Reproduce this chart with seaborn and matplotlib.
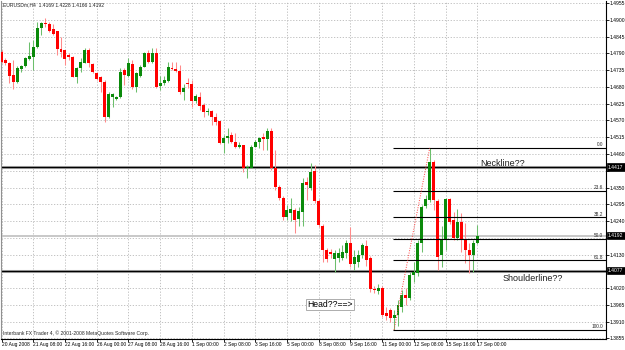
import numpy as np
import seaborn as sns
import matplotlib
matplotlib.use('Agg')
import matplotlib.pyplot as plt
import matplotlib.transforms as mtransforms

# EURUSDm H4 bars, 20 Aug 2008 00:00 .. 17 Sep 2008 00:00
opens = [1.4794, 1.4768, 1.4758, 1.4719, 1.4696, 1.4739, 1.4749, 1.4771, 1.4778, 1.4811,
         1.4873, 1.4890, 1.4886, 1.4870, 1.4863, 1.4804, 1.4801, 1.4785, 1.4778, 1.4712,
         1.4742, 1.4758, 1.4801, 1.4755, 1.4726, 1.4712, 1.4696, 1.4581, 1.4647, 1.4640,
         1.4647, 1.4735, 1.4716, 1.4755, 1.4680, 1.4716, 1.4745, 1.4791, 1.4762, 1.4791,
         1.4683, 1.4693, 1.4699, 1.4742, 1.4739, 1.4732, 1.4663, 1.4693, 1.4689, 1.4634,
         1.4647, 1.4621, 1.4598, 1.4601, 1.4581, 1.4568, 1.4496, 1.4512, 1.4522, 1.4499,
         1.4483, 1.4489, 1.4414, 1.4414, 1.4483, 1.4499, 1.4516, 1.4509, 1.4535, 1.4414,
         1.4352, 1.4316, 1.4253, 1.4266, 1.4276, 1.4247, 1.4270, 1.4368, 1.4348, 1.4404,
         1.4306, 1.4224, 1.4145, 1.4138, 1.4115, 1.4119, 1.4119, 1.4135, 1.4168, 1.4099,
         1.4106, 1.4129, 1.4158, 1.4119, 1.4017, 1.4010, 1.4020, 1.3938, 1.3948, 1.3922,
         1.3932, 1.3958, 1.3997, 1.3988, 1.4063, 1.4070, 1.4168, 1.4289, 1.4309, 1.4434,
         1.4306, 1.4129, 1.4178, 1.4312, 1.4243, 1.4184, 1.4237, 1.4178, 1.4145, 1.4129,
         1.4169]
highs = [1.4801, 1.4775, 1.4762, 1.4768, 1.4749, 1.4752, 1.4778, 1.4827, 1.4834, 1.4893,
         1.4893, 1.4906, 1.4893, 1.4886, 1.4863, 1.4844, 1.4801, 1.4791, 1.4781, 1.4745,
         1.4775, 1.4808, 1.4808, 1.4758, 1.4729, 1.4716, 1.4703, 1.4663, 1.4660, 1.4650,
         1.4742, 1.4742, 1.4775, 1.4768, 1.4729, 1.4752, 1.4794, 1.4801, 1.4808, 1.4808,
         1.4716, 1.4716, 1.4762, 1.4762, 1.4762, 1.4752, 1.4689, 1.4709, 1.4703, 1.4657,
         1.4663, 1.4627, 1.4611, 1.4604, 1.4594, 1.4568, 1.4522, 1.4545, 1.4532, 1.4529,
         1.4499, 1.4489, 1.4424, 1.4489, 1.4506, 1.4516, 1.4529, 1.4545, 1.4545, 1.4473,
         1.4358, 1.4322, 1.4293, 1.4316, 1.4283, 1.4286, 1.4381, 1.4384, 1.4430, 1.4424,
         1.4312, 1.4230, 1.4152, 1.4148, 1.4145, 1.4152, 1.4161, 1.4178, 1.4220, 1.4145,
         1.4145, 1.4168, 1.4178, 1.4125, 1.4027, 1.4033, 1.4027, 1.3958, 1.3955, 1.3948,
         1.3981, 1.4014, 1.4020, 1.4073, 1.4106, 1.4178, 1.4293, 1.4325, 1.4480, 1.4440,
         1.4312, 1.4224, 1.4316, 1.4316, 1.4270, 1.4279, 1.4266, 1.4234, 1.4168, 1.4178,
         1.4228]
lows = [1.4758, 1.4752, 1.4693, 1.4673, 1.4693, 1.4729, 1.4745, 1.4768, 1.4735, 1.4808,
        1.4850, 1.4876, 1.4860, 1.4850, 1.4785, 1.4778, 1.4752, 1.4768, 1.4712, 1.4693,
        1.4729, 1.4758, 1.4745, 1.4726, 1.4703, 1.4663, 1.4565, 1.4578, 1.4614, 1.4637,
        1.4644, 1.4686, 1.4712, 1.4673, 1.4663, 1.4712, 1.4745, 1.4758, 1.4758, 1.4676,
        1.4670, 1.4686, 1.4696, 1.4735, 1.4729, 1.4657, 1.4637, 1.4676, 1.4614, 1.4627,
        1.4604, 1.4581, 1.4588, 1.4555, 1.4555, 1.4493, 1.4463, 1.4496, 1.4496, 1.4480,
        1.4480, 1.4401, 1.4381, 1.4414, 1.4483, 1.4480, 1.4473, 1.4473, 1.4407, 1.4342,
        1.4309, 1.4243, 1.4243, 1.4240, 1.4201, 1.4224, 1.4224, 1.4309, 1.4342, 1.4299,
        1.4220, 1.4106, 1.4106, 1.4119, 1.4073, 1.4106, 1.4112, 1.4119, 1.4089, 1.4079,
        1.4089, 1.4119, 1.4093, 1.4007, 1.4004, 1.4001, 1.3925, 1.3915, 1.3909, 1.3883,
        1.3896, 1.3942, 1.3965, 1.3981, 1.4040, 1.4060, 1.4138, 1.4283, 1.4302, 1.4276,
        1.4079, 1.4089, 1.4145, 1.4230, 1.4178, 1.4178, 1.4138, 1.4102, 1.4070, 1.4073,
        1.4166]
closes = [1.4762, 1.4758, 1.4716, 1.4696, 1.4742, 1.4749, 1.4775, 1.4781, 1.4811, 1.4873,
          1.4890, 1.4886, 1.4863, 1.4853, 1.4804, 1.4794, 1.4771, 1.4778, 1.4712, 1.4742,
          1.4762, 1.4801, 1.4758, 1.4729, 1.4706, 1.4696, 1.4581, 1.4657, 1.4657, 1.4647,
          1.4729, 1.4719, 1.4758, 1.4680, 1.4726, 1.4745, 1.4791, 1.4762, 1.4791, 1.4680,
          1.4693, 1.4703, 1.4745, 1.4739, 1.4732, 1.4663, 1.4676, 1.4689, 1.4634, 1.4650,
          1.4617, 1.4598, 1.4601, 1.4581, 1.4565, 1.4496, 1.4512, 1.4519, 1.4499, 1.4483,
          1.4489, 1.4414, 1.4417, 1.4483, 1.4499, 1.4512, 1.4509, 1.4535, 1.4414, 1.4352,
          1.4316, 1.4253, 1.4276, 1.4279, 1.4243, 1.4273, 1.4365, 1.4358, 1.4401, 1.4306,
          1.4227, 1.4145, 1.4115, 1.4132, 1.4135, 1.4135, 1.4138, 1.4168, 1.4099, 1.4122,
          1.4129, 1.4161, 1.4112, 1.4017, 1.4014, 1.4020, 1.3932, 1.3929, 1.3922, 1.3932,
          1.3965, 1.3997, 1.3988, 1.4063, 1.4073, 1.4168, 1.4286, 1.4312, 1.4434, 1.4309,
          1.4122, 1.4178, 1.4312, 1.4237, 1.4184, 1.4237, 1.4178, 1.4145, 1.4129, 1.4168,
          1.4192]

date_labels = ['20 Aug 2008', '21 Aug 08:00', '22 Aug 16:00', '26 Aug 00:00', '27 Aug 08:00',
               '28 Aug 16:00', '1 Sep 00:00', '2 Sep 08:00', '3 Sep 16:00', '5 Sep 00:00',
               '8 Sep 08:00', '9 Sep 16:00', '11 Sep 00:00', '12 Sep 08:00', '15 Sep 16:00',
               '17 Sep 00:00']
bars_per_label = 8
price_ticks = [1.4955, 1.4900, 1.4845, 1.4790, 1.4735, 1.4680, 1.4625, 1.4570, 1.4515,
               1.4460, 1.4405, 1.4350, 1.4295, 1.4240, 1.4185, 1.4130, 1.4075, 1.4020,
               1.3965, 1.3910, 1.3855]

neckline = 1.4417
shoulderline = 1.4077
fib_levels = [0.0, 23.6, 38.2, 50.0, 61.8, 100.0]
fib_low_bar, fib_low = 99, 1.3883
fib_high_bar, fib_high = 108, 1.4480
header = 'EURUSDm,H4  1.4169 1.4228 1.4166 1.4192'
footer = 'Interbank FX Trader 4, \u00a9 2001-2008 MetaQuotes Software Corp.'

sns.set_theme(style='white')
small = ['Liberation Sans', 'DejaVu Sans']
plt.rcParams['font.family'] = ['Liberation Sans', 'DejaVu Sans']

o = np.array(opens); h = np.array(highs); l = np.array(lows); c = np.array(closes)
x = np.arange(len(o))
up = c >= o

fig = plt.figure(figsize=(6.25, 3.5), dpi=100)
ax = fig.add_axes([1 / 625, 11 / 350, 605 / 625, 338 / 350])
ax.set_xlim(-0.13, 152.46)
ax.set_ylim(1.3853, 1.4962)

green, red = '#0b8a0b', '#ff0000'
ax.vlines(x[up], l[up], h[up], color='#6cbf6c', linewidth=0.75, zorder=3)
ax.vlines(x[~up], l[~up], h[~up], color='#ff8a8a', linewidth=0.75, zorder=3)
body = np.maximum(np.abs(c - o), 0.00033)
ax.bar(x, body, bottom=np.minimum(o, c), width=0.75,
       color=np.where(up, green, red), linewidth=0, zorder=4)

# grid
ax.set_xticks(x[::bars_per_label])
ax.set_yticks(price_ticks)
ax.grid(True, color='#b8b8b8', linestyle=(0, (1.5, 2)), linewidth=0.6)
ax.set_axisbelow(True)

# neckline / shoulderline / last price
boxed = [neckline, c[-1], shoulderline]
for lvl in [neckline, shoulderline]:
    ax.axhline(lvl, color='#a8a8a8', linewidth=2.2, zorder=2)
    ax.axhline(lvl, color='black', linewidth=0.9, zorder=2)
ax.axhline(c[-1], color='#c8c8c8', linewidth=1.4, zorder=2)

# fibonacci
xr = ax.get_xlim()[1]
for r in fib_levels:
    p = fib_high - r / 100 * (fib_high - fib_low)
    ax.hlines(p, fib_low_bar - 0.2, xr, color='black', linewidth=0.8, zorder=5)
    ax.text(xr - 0.8, p + 0.0002, f'{r:.1f}', ha='right', va='bottom', fontsize=3.4,
            family=small, zorder=6)
sns.lineplot(x=[fib_low_bar, fib_high_bar], y=[fib_low, fib_high], ax=ax, color='#ff4040',
             linestyle=(0, (1, 1.5)), linewidth=0.7, zorder=5)

# text objects
ax.text(120.7, 1.4430, 'Neckline??', fontsize=6.5, va='center', ha='left', color='#202020')
ax.text(126.4, 1.4052, 'Shoulderline??', fontsize=6.5, va='center', ha='left', color='#202020')
ax.text(77.0, 1.3966, 'Head??==>', fontsize=6.2, va='center', ha='left', color='black',
        bbox=dict(boxstyle='square,pad=0.15', fc='white', ec='#a0a0a0', lw=0.6), zorder=7)

# axes styling
ax.spines['top'].set_visible(False)
ax.spines['left'].set_color('#909090')
ax.spines['left'].set_linewidth(0.8)
for s in ['right', 'bottom']:
    ax.spines[s].set_color('black')
    ax.spines[s].set_linewidth(0.8)
ax.yaxis.tick_right()
ylabels = ['' if min(abs(p - b) for b in boxed) < 0.0016 else f'{p:.4f}' for p in price_ticks]
ax.set_yticklabels(ylabels, fontsize=3.6, family=small)
ax.set_xticklabels(date_labels, fontsize=3.5, family=small, ha='left')
ax.tick_params(axis='y', length=2, width=0.6, pad=0.8, colors='black', left=False, right=True)
ax.tick_params(axis='x', length=2, width=0.6, pad=0.5, colors='black', bottom=True)
for t in ax.get_xticklabels():
    t.set_horizontalalignment('left')

trans = mtransforms.blended_transform_factory(ax.transAxes, ax.transData)
for lvl in boxed:
    ax.text(1.0035, lvl, f'{lvl:.4f}', transform=trans, fontsize=3.6, family=small,
            color='white', va='center', ha='left', zorder=8,
            bbox=dict(boxstyle='square,pad=0.25', fc='black', ec='black', lw=0.5))

fig.text(3 / 625, 1 - 5 / 350, header, fontsize=3.6, family=small, va='center', ha='left')
fig.text(3 / 625, 1 - 333 / 350, footer, fontsize=3.6, family=small, va='center', ha='left')

fig.savefig('out.png', dpi=100, facecolor='white')
